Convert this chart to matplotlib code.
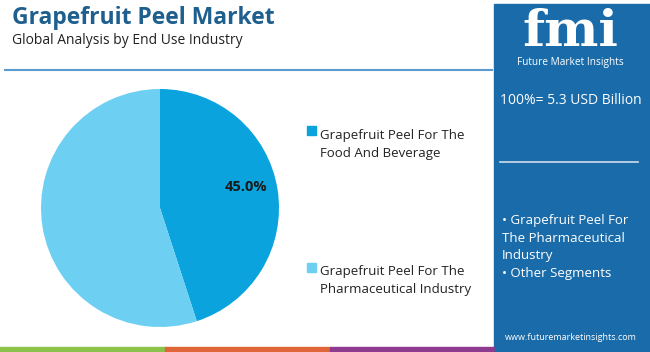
import matplotlib
matplotlib.use("Agg")
import matplotlib.pyplot as plt
from matplotlib.patches import Rectangle

title = "Grapefruit Peel Market"
subtitle = "Global Analysis by End Use Industry"
categories = ["Grapefruit Peel For The\nFood And Beverage",
              "Grapefruit Peel For The\nPharmaceutical Industry"]
values = [45.0, 55.0]
colors = ["#0AA3DD", "#6DCFF2"]
total_label = "100%= 5.3 USD Billion"
panel_items = "• Grapefruit Peel For\nThe Pharmaceutical\nIndustry\n• Other Segments"
website = "www.futuremarketinsights.com"

W, H = 650, 352
fig = plt.figure(figsize=(W / 100, H / 100), dpi=100)
fig.patch.set_facecolor("white")
bg = fig.add_axes([0, 0, 1, 1])
bg.set_xlim(0, W)
bg.set_ylim(H, 0)
bg.axis("off")

font = "Open Sans"
# Title
bg.text(12, 18, title, fontsize=16.5, fontweight="bold", color="#1E5F8E",
        family=font, va="center", ha="left")
bg.text(12, 41, subtitle, fontsize=10, color="#222222", family=font,
        va="center", ha="left")
bg.plot([5, 492], [70, 70], color="#5A9BD0", lw=1.5)

# Right panel
bg.add_patch(Rectangle((494, 4), 156, 343, color="#1A6BAA", zorder=1))
bg.text(570, 32, "fmi", fontsize=37, fontweight="bold", color="white",
        family="DejaVu Serif", ha="center", va="center", zorder=2)
bg.text(570, 62, "Future Market Insights", fontsize=7.3, color="white",
        family=font, ha="center", va="center", zorder=2)
bg.text(571, 100, total_label, fontsize=10, color="white", family=font,
        ha="center", va="center", zorder=2)
bg.plot([500, 638], [162, 162], color="#D0DCEA", lw=1.2, zorder=2)
bg.text(502, 247, panel_items, fontsize=9.5, color="white", family=font,
        ha="left", va="center", linespacing=1.45, zorder=2)
bg.text(571, 337, website, fontsize=6.5, color="white", family=font,
        ha="center", va="center", zorder=2)

# Bottom stripes
stripe_colors = ["#8BC34A", "#E0663A", "#8E3A8E", "#1A6BAA"]
for i, c in enumerate(stripe_colors):
    bg.add_patch(Rectangle((i * 165, 347), 165 if i < 3 else 160, 5, color=c, zorder=3))

# Pie
cx, cy, r = 160, 208, 119
pax = fig.add_axes([(cx - r) / W, 1 - (cy + r) / H, 2 * r / W, 2 * r / H])
wedges, _ = pax.pie(values, colors=colors, startangle=90, counterclock=False,
                    radius=1.0, wedgeprops=dict(linewidth=0))
pax.set_xlim(-1, 1)
pax.set_ylim(-1, 1)
pax.set_aspect("auto")
pax.axis("off")
pax.text((246 - cx) / r, -(187 - cy) / r, f"{values[0]:.1f}%", fontsize=10.5,
         fontweight="bold", color="#1a1a1a", family=font, ha="center", va="center")

# Legend
leg_y = [144, 281]
for lab, c, y in zip(categories, colors, leg_y):
    bg.add_patch(Rectangle((307, y - 18), 9, 9, color=c, zorder=2))
    bg.text(320, y, lab, fontsize=9.5, color="#222222", family=font,
            ha="left", va="center", linespacing=1.5)

fig.savefig("out.png", dpi=100)
